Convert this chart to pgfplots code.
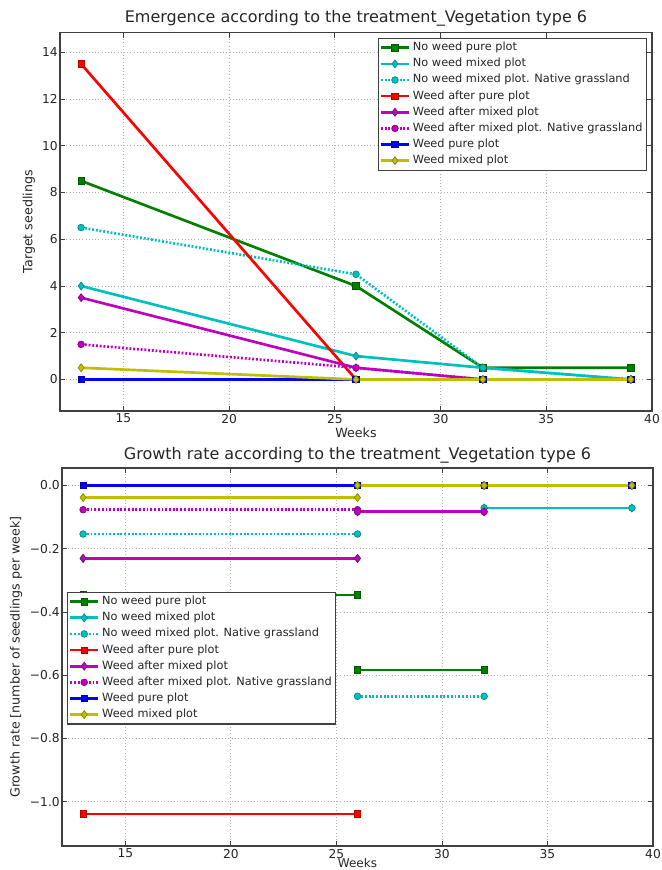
\documentclass[border=0pt]{standalone}
\usepackage{fontspec}
\setmainfont{DejaVu Sans}
\usepackage{pgfplots}
\pgfplotsset{compat=1.18}
\definecolor{mgreen}{rgb}{0,0.5,0}
\definecolor{mcyan}{rgb}{0,0.75,0.75}
\definecolor{mred}{rgb}{1,0,0}
\definecolor{mmag}{rgb}{0.75,0,0.75}
\definecolor{mblue}{rgb}{0,0,1}
\definecolor{myel}{rgb}{0.75,0.75,0}
\pgfplotsset{
  sq/.style={color=#1, line width=2pt, mark=square*, mark size=2.4pt,
    mark options={solid, fill=#1, draw=#1!70!black, line width=0.5pt}},
  dm/.style={color=#1, line width=2pt, mark=diamond*, mark size=3pt,
    mark options={solid, fill=#1, draw=#1!70!black, line width=0.5pt}},
  dt/.style={color=#1, line width=2pt, dash pattern=on 1.4pt off 1.4pt, mark=*, mark size=2.5pt,
    mark options={solid, fill=#1, draw=#1!70!black, line width=0.5pt}},
  every axis title shift=0pt,
  mystyle/.style={
    scale only axis, anchor=south west,
    xmin=12, xmax=40, xtick={15,20,25,30,35,40},
    tick align=inside, major tick length=4pt,
    axis line style={black!75, line width=0.8pt},
    tick style={black!75, line width=0.6pt},
    grid=major, major grid style={black!30, dotted, line width=0.6pt},
    ticklabel style={font=\fontsize{9.2}{11}\selectfont, text=black!85},
    /pgf/number format/assume math mode=true,
    yticklabel style={inner sep=1.5pt},
    xticklabel style={inner sep=2pt},
    label style={font=\fontsize{9.5}{11}\selectfont, text=black!85},
    title style={font=\fontsize{12}{14}\selectfont, text=black!85, anchor=center},
    xlabel={Weeks},
    legend cell align=left,
    legend image code/.code={\draw[mark repeat=2,mark phase=2,##1] plot coordinates {(0pt,0pt)(10.5pt,0pt)(21pt,0pt)};},
    legend style={draw=black!75, line width=0.8pt, fill=white,
      font=\fontsize{8.5}{10}\selectfont, text=black!85,
      nodes={inner ysep=2pt, inner xsep=2pt, text height=6.3pt, text depth=1.8pt},
      inner xsep=1pt, inner ysep=1pt},
    unbounded coords=jump,
  },
}
\begin{document}
\begin{tikzpicture}
\path[use as bounding box] (0,0) rectangle (495.75pt,652.5pt);
% ---------------- top axis ----------------
\begin{axis}[mystyle,
  at={(45pt,344.25pt)}, width=444pt, height=283.9pt,
  ymin=-1.35, ymax=14.85, ytick={0,2,4,6,8,10,12,14},
  title={Emergence according to the treatment\_Vegetation type 6},
  title style={at={(axis description cs:0.5,1.037)}},
  ylabel={Target seedlings},
  ylabel style={at={(axis description cs:-0.0524,0.5)}, anchor=center, rotate=0},
  xlabel style={at={(axis description cs:0.5,-0.058)}, anchor=center},
  legend style={at={(axis description cs:0.9916,0.9859)}, anchor=north east},
]
\addplot[sq=mgreen] coordinates {(13,8.5) (26,4) (32,0.5) (39,0.5)};
\addlegendentry{No weed pure plot}
\addplot[dm=mcyan] coordinates {(13,4) (26,1) (32,0.5) (39,0)};
\addlegendentry{No weed mixed plot}
\addplot[dt=mcyan] coordinates {(13,6.5) (26,4.5) (32,0.5) (39,0)};
\addlegendentry{No weed mixed plot. Native grassland}
\addplot[sq=mred] coordinates {(13,13.5) (26,0) (32,0) (39,0)};
\addlegendentry{Weed after pure plot}
\addplot[dm=mmag] coordinates {(13,3.5) (26,0.5) (32,0) (39,0)};
\addlegendentry{Weed after mixed plot}
\addplot[dt=mmag] coordinates {(13,1.5) (26,0.5) (32,0) (39,0)};
\addlegendentry{Weed after mixed plot. Native grassland}
\addplot[sq=mblue] coordinates {(13,0) (26,0) (32,0) (39,0)};
\addlegendentry{Weed pure plot}
\addplot[dm=myel] coordinates {(13,0.5) (26,0) (32,0) (39,0)};
\addlegendentry{Weed mixed plot}
\end{axis}
% ---------------- bottom axis ----------------
\begin{axis}[mystyle,
  at={(46.5pt,18pt)}, width=443.25pt, height=283.5pt,
  ymin=-1.14, ymax=0.055,
  ytick={-1,-0.8,-0.6,-0.4,-0.2,0},
  yticklabels={−1.0,−0.8,−0.6,−0.4,−0.2,0.0},
  title={Growth rate according to the treatment\_Vegetation type 6},
  title style={at={(axis description cs:0.5,1.034)}},
  ylabel={Growth rate [number of seedlings per week]},
  ylabel style={at={(axis description cs:-0.0778,0.5)}, anchor=center, rotate=0},
  xlabel style={at={(axis description cs:0.5,-0.0582)}, anchor=south, inner sep=0pt, font=\fontsize{9}{10}\selectfont},
  legend style={at={(axis description cs:0.0085,0.497)}, anchor=west},
]
\addplot[sq=mgreen] coordinates {(13,-0.3462) (26,-0.3462) (26,nan) (26,-0.5833) (32,-0.5833) (32,nan) (32,0) (39,0)};
\addlegendentry{No weed pure plot}
\addplot[dm=mcyan] coordinates {(13,-0.2308) (26,-0.2308) (26,nan) (26,-0.0833) (32,-0.0833) (32,nan) (32,-0.0714) (39,-0.0714)};
\addlegendentry{No weed mixed plot}
\addplot[dt=mcyan] coordinates {(13,-0.1538) (26,-0.1538) (26,nan) (26,-0.6667) (32,-0.6667) (32,nan) (32,-0.0714) (39,-0.0714)};
\addlegendentry{No weed mixed plot. Native grassland}
\addplot[sq=mred] coordinates {(13,-1.0385) (26,-1.0385) (26,nan) (26,0) (32,0) (32,nan) (32,0) (39,0)};
\addlegendentry{Weed after pure plot}
\addplot[dm=mmag] coordinates {(13,-0.2308) (26,-0.2308) (26,nan) (26,-0.0833) (32,-0.0833) (32,nan) (32,0) (39,0)};
\addlegendentry{Weed after mixed plot}
\addplot[dt=mmag] coordinates {(13,-0.0769) (26,-0.0769) (26,nan) (26,-0.0833) (32,-0.0833) (32,nan) (32,0) (39,0)};
\addlegendentry{Weed after mixed plot. Native grassland}
\addplot[sq=mblue] coordinates {(13,0) (26,0) (26,nan) (26,0) (32,0) (32,nan) (32,0) (39,0)};
\addlegendentry{Weed pure plot}
\addplot[dm=myel] coordinates {(13,-0.0385) (26,-0.0385) (26,nan) (26,0) (32,0) (32,nan) (32,0) (39,0)};
\addlegendentry{Weed mixed plot}
\end{axis}
\end{tikzpicture}
\end{document}
